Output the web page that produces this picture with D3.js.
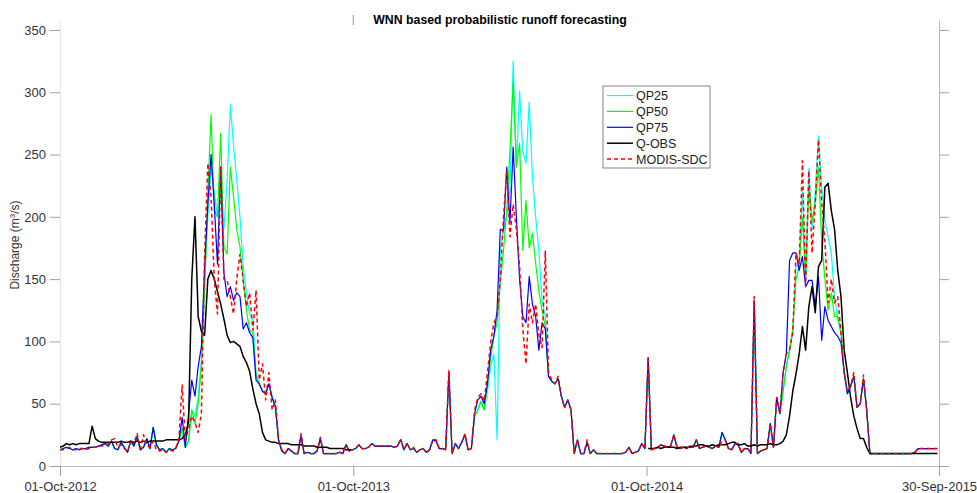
<!DOCTYPE html>
<html><head><meta charset="utf-8">
<script src="https://cdn.jsdelivr.net/npm/d3@7"></script>
<style>body{margin:0;background:#fff} svg{display:block;font-family:Arial,"Liberation Sans",sans-serif}</style>
</head><body><svg id="c" width="977" height="493"></svg>
<script>
const startDate = "2012-10-01";
const endDate = "2015-09-30";
const stepDays = 4;
const seriesNames = ["QP25", "QP50", "QP75", "Q-OBS", "MODIS-SDC"];
const xTickDates = ["2012-10-01", "2013-10-01", "2014-10-01", "2015-09-30"];
const xTickLabels = ["01-Oct-2012", "01-Oct-2013", "01-Oct-2014", "30-Sep-2015"];
const yTicks = [0, 50, 100, 150, 200, 250, 300, 350];

const qp25 = [13,14,15,14,13,14,13,14,14,15,
15,15,16,17,18,16,20,14,13,19,
15,11,20,16,24,13,15,22,14,31,
17,13,14,11,14,13,14,20,30,15,
20,45,40,55,85,150,200,240,220,200,
215,190,229,290,257,230,200,160,139,122,
117,75,66,60,58,66,55,48,21,12,
10,14,12,10,10,24,10,11,10,10,
12,22,10,10,10,10,10,11,10,17,
12,13,14,17,14,14,15,18,16,16,
16,16,16,16,15,16,21,13,18,13,
14,11,13,14,11,13,21,20,14,14,
13,75,10,18,14,19,25,13,14,40,
45,52,45,60,80,90,21,173,190,200,
221,325,240,301,253,243,292,232,200,173,
133,120,72,68,66,70,56,47,53,45,
10,21,10,10,19,10,13,10,10,10,
10,10,10,10,10,10,11,15,10,11,
12,18,14,87,13,14,15,17,16,15,
16,25,15,14,15,14,16,15,21,14,
15,16,15,14,16,15,27,21,14,13,
18,17,11,14,14,10,133,10,12,13,
14,34,15,55,42,60,80,93,107,160,
162,220,150,239,190,220,265,224,197,184,
171,136,117,107,75,58,64,72,47,50,
70,45,10,10,10,10,10,10,10,10,
10,10,10,10,10,10,11,14,14,14,
14,14,14,14];

const qp50 = [13,14,15,14,13,14,13,14,14,15,
15,15,16,17,18,16,20,14,13,19,
15,11,20,16,24,13,15,22,14,31,
17,13,14,11,14,13,14,20,30,15,
20,45,34,50,80,140,220,282,205,200,
267,176,170,240,216,190,176,150,125,109,
107,72,66,60,58,66,55,48,21,12,
10,14,12,10,10,24,10,11,10,10,
12,22,10,10,10,10,10,11,10,17,
12,13,14,17,14,14,15,18,16,16,
16,16,16,16,15,16,21,13,18,13,
14,11,13,14,11,13,21,20,14,14,
13,75,10,18,14,19,25,13,14,40,
45,52,45,66,87,104,115,147,173,205,
253,308,240,259,173,213,175,187,163,140,
125,112,72,68,66,70,56,47,53,45,
10,21,10,10,19,10,13,10,10,10,
10,10,10,10,10,10,11,15,10,11,
12,18,14,87,13,14,15,17,16,15,
16,25,15,14,15,14,16,15,21,14,
15,16,15,14,16,15,27,21,14,13,
18,17,11,14,14,10,133,10,12,13,
14,34,15,55,42,60,80,93,110,150,
160,200,150,224,197,211,240,180,150,125,
139,120,120,107,75,58,64,72,47,50,
70,45,10,10,10,10,10,10,10,10,
10,10,10,10,10,10,11,14,14,14,
14,14,14,14];

const qp75 = [13,14,15,14,13,14,13,14,14,15,
15,15,16,17,18,16,20,14,13,19,
15,11,20,16,24,13,15,22,14,31,
17,13,14,11,14,13,14,20,39,15,
42,69,56,80,96,160,210,250,210,162,
240,155,136,144,133,139,136,110,115,107,
103,69,66,60,58,66,55,48,21,12,
10,14,12,10,10,24,10,11,10,10,
12,22,10,10,10,10,10,11,10,17,
12,13,14,17,14,14,15,18,16,16,
16,16,16,16,15,16,21,13,18,13,
14,11,13,14,11,13,21,20,14,14,
13,75,10,18,14,19,25,13,14,42,
53,56,50,66,93,104,125,190,189,240,
195,256,200,150,120,115,152,130,120,93,
115,110,72,68,66,70,56,47,53,45,
10,21,10,10,19,10,13,10,10,10,
10,10,10,10,10,10,11,15,10,11,
12,18,14,87,13,14,15,17,16,15,
16,25,15,14,15,14,16,15,21,14,
15,16,15,14,16,15,27,21,14,13,
18,17,11,14,14,10,133,10,12,13,
14,34,15,55,42,75,90,165,171,171,
157,168,144,149,149,128,152,101,128,117,
112,107,104,99,75,58,64,72,47,50,
70,45,10,10,10,10,10,10,10,10,
10,10,10,10,10,10,11,14,14,14,
14,14,14,14];

// Q-OBS: two observed periods (no observations in water year 2013-14)
const qobsStartDays = [0, 732];
const qobsPeriod1 = [15,16,18,17,18,17,18,18,18,18,
32,22,20,19,19,19,19,19,19,20,
19,19,20,19,20,19,20,19,20,20,
20,20,20,21,21,21,21,21,22,25,
35,150,200,120,108,105,150,157,150,140,
130,118,105,99,100,98,96,88,83,76,
62,50,42,27,21,20,19,19,18,18,
18,18,17,17,17,17,16,16,16,16,
15,15,15,15,14,14,14,14,14,13,
13,13];
const qobsPeriod2 = [14,14,14,15,14,15,15,
15,15,14,15,15,15,15,16,16,17,
17,16,16,17,16,17,17,17,18,19,
19,17,17,18,16,16,17,16,17,17,
17,18,17,17,18,20,25,40,60,74,
90,112,93,128,144,123,160,165,224,227,
205,190,157,136,93,75,55,40,30,22,
22,15,10,10,10,10,10,10,10,10,
10,10,10,10,10,10,10,10,10,10,
10,10,10,10];

const modisSdc = [13,13,14,15,13,13,14,14,13,14,
15,15,16,16,17,18,21,22,15,17,
14,12,19,18,26,14,25,16,15,20,
13,12,13,11,13,12,14,22,65,20,
30,40,35,27,42,170,243,216,150,122,
240,150,149,136,122,150,170,149,128,139,
109,141,69,82,53,75,45,53,21,13,
10,14,12,10,10,26,10,11,10,10,
12,23,10,10,10,10,10,11,10,17,
12,13,14,17,14,14,15,18,16,16,
16,16,16,16,15,16,22,13,18,13,
15,11,13,14,11,13,21,21,14,14,
13,77,10,18,14,19,26,13,14,45,
55,58,52,75,99,115,120,150,200,237,
184,210,190,160,110,82,130,115,130,105,
95,173,75,69,66,72,56,47,53,45,
10,21,10,10,21,10,13,10,10,10,
10,10,10,10,10,10,11,15,10,11,
12,18,14,87,13,14,15,17,16,15,
16,25,15,14,15,14,16,15,21,14,
15,16,15,14,16,15,20,21,14,13,
18,18,11,14,14,10,136,10,12,13,
14,34,15,55,42,75,90,93,107,171,
162,245,144,237,171,211,262,211,180,131,
150,131,136,107,75,60,64,75,47,50,
73,45,10,10,10,10,10,10,10,10,
10,10,10,10,10,10,11,14,14,14,
14,14,14,14];

const colors = {"QP25":"#00ffff","QP50":"#00ff00","QP75":"#0000ff","Q-OBS":"#000000","MODIS-SDC":"#ff0000"};

const svg = d3.select("#c");
const parse = d3.utcParse("%Y-%m-%d");
const t0 = parse(startDate);
const x = d3.scaleUtc().domain([t0, parse(endDate)]).range([60, 939]);
const y = d3.scaleLinear().domain([0, 358]).range([466, 20]);

function lineFor(startDay) {
  return d3.line()
    .x((d, i) => x(d3.utcDay.offset(t0, startDay + i * stepDays)))
    .y(d => y(d));
}

// axes
const gl = svg.append("g").attr("transform", "translate(60,0)")
  .call(d3.axisLeft(y).tickValues(yTicks).tickSize(10).tickSizeOuter(0).tickPadding(4));
gl.select(".domain").attr("stroke", "#e4e4e4");
gl.selectAll(".tick line").attr("stroke", "#a0a0a0");
gl.selectAll(".tick text").attr("fill", "#333").style("font-size", "13px").style("font-family", "Arial, 'Liberation Sans', sans-serif");

const gr = svg.append("g").attr("transform", "translate(939,0)")
  .call(d3.axisRight(y).tickValues(yTicks).tickSize(10).tickSizeOuter(0).tickFormat(""));
gr.select(".domain").attr("stroke", "#bdbdbd");
gr.selectAll(".tick line").attr("stroke", "#a0a0a0");

const gb = svg.append("g").attr("transform", "translate(0,466)")
  .call(d3.axisBottom(x).tickValues(xTickDates.map(parse)).tickSize(10).tickSizeOuter(0).tickPadding(6)
    .tickFormat((d, i) => xTickLabels[i]));
gb.select(".domain").attr("stroke", "#bdbdbd");
gb.selectAll(".tick line").attr("stroke", "#a0a0a0");
gb.selectAll(".tick text").attr("fill", "#333").style("font-size", "13px").style("font-family", "Arial, 'Liberation Sans', sans-serif");

// small top tick
svg.append("line").attr("x1", x(parse(xTickDates[1]))).attr("x2", x(parse(xTickDates[1])))
  .attr("y1", 15).attr("y2", 25).attr("stroke", "#999");

// series lines
const plotSeries = [
  {name: "QP25", data: [[0, qp25]], w: 1.2, dash: null},
  {name: "QP50", data: [[0, qp50]], w: 1.2, dash: null},
  {name: "QP75", data: [[0, qp75]], w: 1.2, dash: null},
  {name: "Q-OBS", data: [[qobsStartDays[0], qobsPeriod1], [qobsStartDays[1], qobsPeriod2]], w: 1.5, dash: null},
  {name: "MODIS-SDC", data: [[0, modisSdc]], w: 1.5, dash: "4,3"}
];
plotSeries.forEach(s => {
  s.data.forEach(([sd, arr]) => {
    svg.append("path").datum(arr)
      .attr("fill", "none").attr("stroke", colors[s.name]).attr("stroke-width", s.w)
      .attr("stroke-dasharray", s.dash).attr("stroke-linejoin", "round")
      .attr("d", lineFor(sd));
  });
});

// title
svg.append("text").attr("x", 500).attr("y", 24).attr("text-anchor", "middle")
  .style("font-weight", "bold").style("font-size", "12.3px").attr("fill", "#000")
  .text("WNN based probabilistic runoff forecasting");

// y label
const yl = svg.append("text").attr("transform", "translate(19,245) rotate(-90)")
  .attr("text-anchor", "middle").attr("fill", "#333").style("font-size", "12px");
yl.append("tspan").text("Discharge (m");
yl.append("tspan").attr("dy", -4).style("font-size", "8px").text("3");
yl.append("tspan").attr("dy", 4).text("/s)");

// legend
const lg = svg.append("g");
lg.append("rect").attr("x", 603).attr("y", 86).attr("width", 107).attr("height", 82)
  .attr("fill", "#fff").attr("stroke", "#666").attr("stroke-width", 0.8);
seriesNames.forEach((n, k) => {
  const yy = 95.5 + k * 15.9;
  const s = plotSeries.find(p => p.name === n);
  lg.append("line").attr("x1", 607).attr("x2", 633).attr("y1", yy).attr("y2", yy)
    .attr("stroke", colors[n]).attr("stroke-width", s.w).attr("stroke-dasharray", s.dash);
  lg.append("text").attr("x", 636).attr("y", yy + 4.5).attr("fill", "#222")
    .style("font-size", "12.5px").text(n);
});
</script></body></html>
